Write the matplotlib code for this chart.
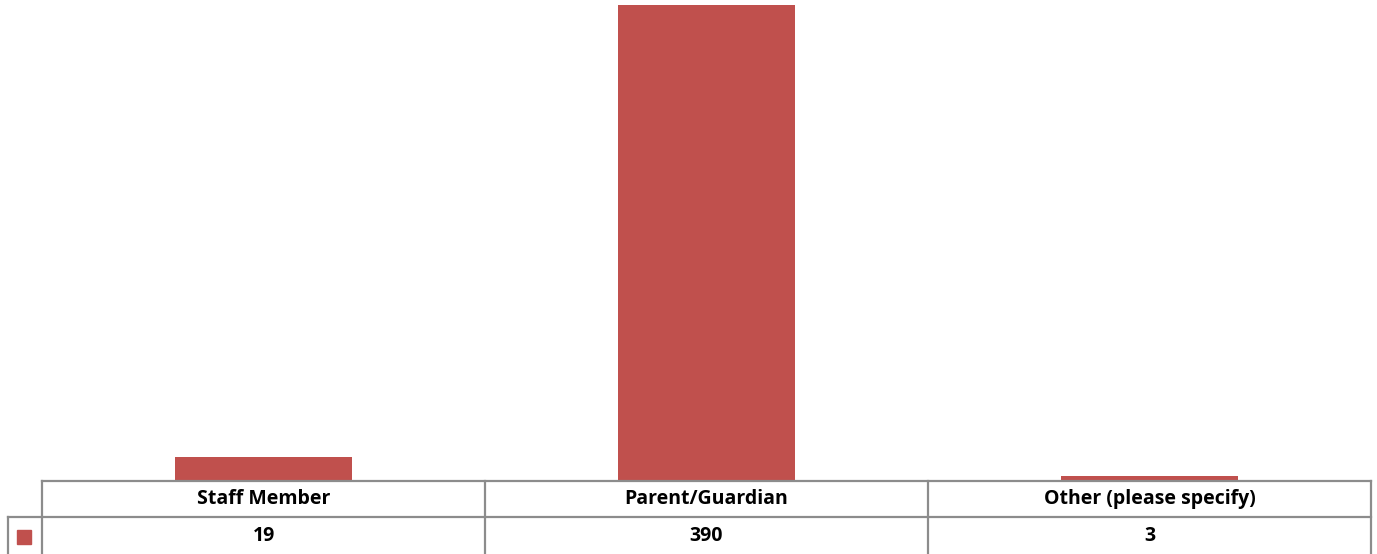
import matplotlib
matplotlib.use("Agg")
import matplotlib.pyplot as plt
from matplotlib.lines import Line2D
from matplotlib.patches import Rectangle

categories = ["Staff Member", "Parent/Guardian", "Other (please specify)"]
values = [19, 390, 3]
value_labels = ["19", "390", "3"]

W, H = 1377, 554
BAR = "#C0504D"
GRID = "#8C8C8C"

fig = plt.figure(figsize=(W / 100, H / 100), dpi=100)
L, R, B, T = 42, 1371, 480, 0
ax = fig.add_axes([L / W, (H - B) / H, (R - L) / W, (B - T) / H])
x = list(range(len(categories)))
ax.bar(x, values, width=0.4, color=BAR, edgecolor="none")
ax.set_xlim(-0.5, len(categories) - 0.5)
ax.set_ylim(0, 390 * 480 / 475)
ax.axis("off")

def fx(px):
    return px / W
def fy(py):
    return (H - py) / H

lw = 1.6
tr = fig.transFigure
fig.add_artist(Line2D([fx(42), fx(1371)], [fy(481), fy(481)], color=GRID, lw=lw, transform=tr))
fig.add_artist(Line2D([fx(8), fx(1371)], [fy(517), fy(517)], color=GRID, lw=lw, transform=tr))
fig.add_artist(Line2D([fx(8), fx(8)], [fy(517), fy(554)], color=GRID, lw=lw, transform=tr))
for i in range(len(categories) + 1):
    xp = L + (R - L) * i / len(categories)
    fig.add_artist(Line2D([fx(xp), fx(xp)], [fy(481), fy(554)], color=GRID, lw=lw, transform=tr))

fig.add_artist(Rectangle((fx(17), fy(544)), 14 / W, 14 / H, color=BAR, transform=tr))

font = ["Open Sans", "DejaVu Sans"]
for i, (c, v) in enumerate(zip(categories, value_labels)):
    xc = L + (R - L) * (i + 0.5) / len(categories)
    fig.text(fx(xc), fy(499), c, ha="center", va="center", fontsize=14, fontweight="bold", family=font)
    fig.text(fx(xc), fy(536), v, ha="center", va="center", fontsize=14, fontweight="bold", family=font)

fig.savefig("out.png", dpi=100)
